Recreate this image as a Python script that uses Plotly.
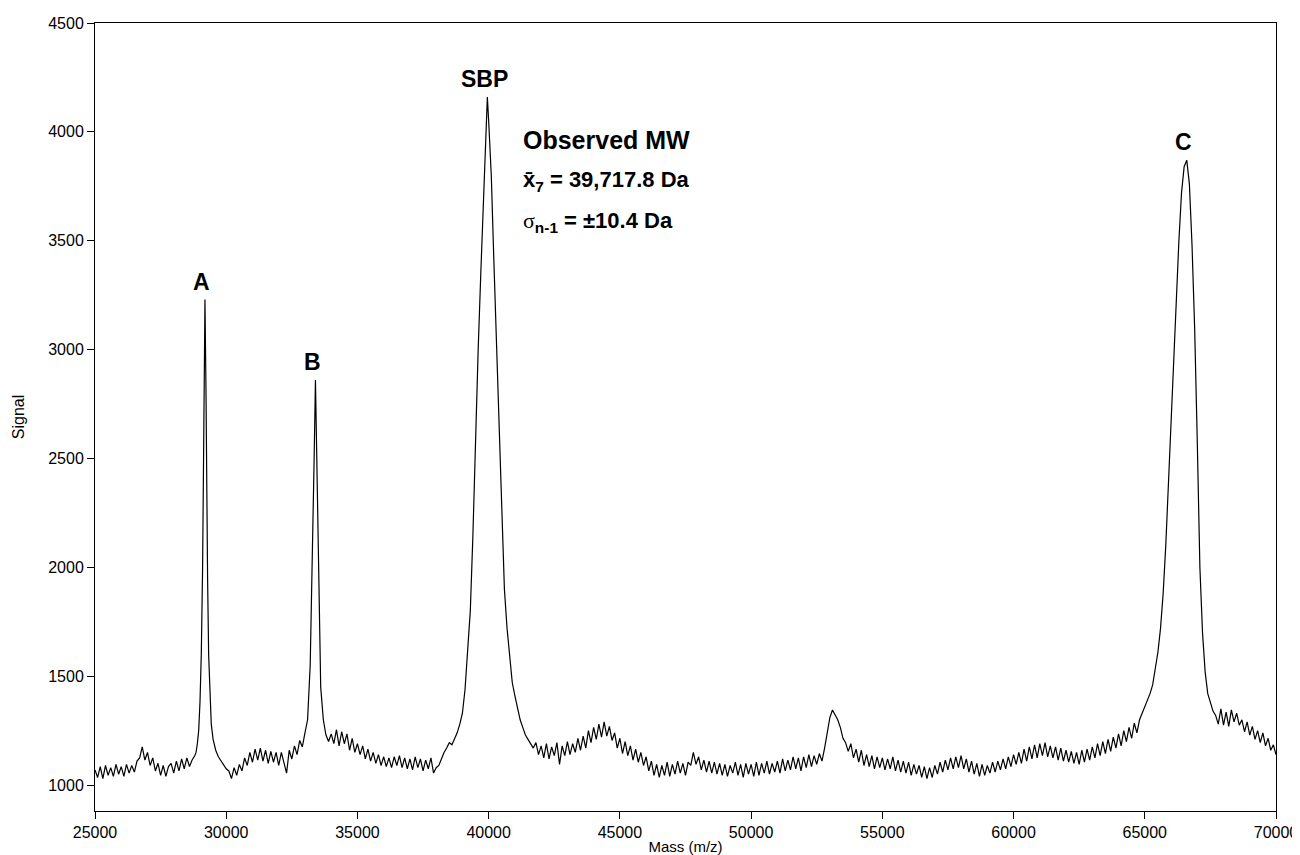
import plotly.graph_objects as go

# ---- spectrum data (mass in Da, signal in counts) ----
mass_base1 = [25000, 25100, 25200, 25300, 25400, 25500, 25600, 25700, 25800, 25900,
              26000, 26100, 26200, 26300, 26400, 26500, 26600, 26700, 26800, 26900,
              27000, 27100, 27200, 27300, 27400, 27500, 27600, 27700, 27800, 27900,
              28000, 28100, 28200, 28300, 28400, 28500, 28600, 28700, 28800]
signal_base1 = [1070, 1035, 1085, 1030, 1090, 1045, 1080, 1040, 1095, 1050,
                1085, 1040, 1095, 1055, 1090, 1060, 1110, 1125, 1175, 1115,
                1150, 1090, 1125, 1065, 1100, 1045, 1090, 1040, 1085, 1100,
                1055, 1110, 1065, 1120, 1075, 1125, 1085, 1115, 1135]

mass_peak_a = [28850, 28900, 28950, 29000, 29050, 29100, 29150, 29190, 29230, 29260,
               29290, 29330, 29380, 29430, 29500, 29600, 29700, 29800, 29900, 30000]
signal_peak_a = [1150, 1190, 1250, 1380, 1600, 2000, 2700, 3230, 2800, 2050,
                 1950, 1600, 1400, 1280, 1210, 1160, 1130, 1110, 1090, 1075]

mass_base2 = [30100, 30200, 30300, 30400, 30500, 30600, 30700, 30800, 30900, 31000,
              31100, 31200, 31300, 31400, 31500, 31600, 31700, 31800, 31900, 32000,
              32100, 32200, 32300, 32400, 32500, 32600, 32700, 32800, 32900, 33000]
signal_base2 = [1065, 1030, 1080, 1045, 1095, 1065, 1125, 1090, 1150, 1105,
                1165, 1115, 1170, 1110, 1160, 1100, 1155, 1105, 1150, 1090,
                1150, 1100, 1055, 1160, 1120, 1180, 1140, 1205, 1175, 1240]

mass_peak_b = [33100, 33200, 33280, 33350, 33400, 33450, 33520, 33600, 33700, 33800, 33900]
signal_peak_b = [1300, 1550, 2000, 2500, 2860, 2450, 1900, 1450, 1300, 1230, 1200]

mass_base3 = [34000, 34100, 34200, 34300, 34400, 34500, 34600, 34700, 34800, 34900,
              35000, 35100, 35200, 35300, 35400, 35500, 35600, 35700, 35800, 35900,
              36000, 36100, 36200, 36300, 36400, 36500, 36600, 36700, 36800, 36900,
              37000, 37100, 37200, 37300, 37400, 37500, 37600, 37700, 37800, 37900, 38000]
signal_base3 = [1235, 1190, 1255, 1180, 1245, 1190, 1235, 1160, 1215, 1150,
                1190, 1140, 1180, 1120, 1165, 1110, 1150, 1100, 1140, 1090,
                1130, 1085, 1125, 1080, 1130, 1090, 1135, 1080, 1125, 1075,
                1120, 1070, 1130, 1080, 1120, 1065, 1115, 1075, 1125, 1055, 1080]

mass_peak_sbp = [38100, 38200, 38300, 38400, 38500, 38600, 38700, 38800, 38900, 39000,
                 39100, 39200, 39300, 39400, 39500, 39600, 39700, 39800, 39900, 39950,
                 40000, 40100, 40200, 40300, 40400, 40500, 40600, 40700, 40800, 40900,
                 41000, 41100, 41200, 41300, 41400, 41500, 41600, 41700]
signal_peak_sbp = [1090, 1120, 1150, 1170, 1195, 1185, 1210, 1240, 1280, 1330,
                   1440, 1600, 1800, 2150, 2620, 3000, 3350, 3700, 4000, 4160,
                   4050, 3800, 3400, 3050, 2700, 2300, 1900, 1720, 1580, 1470,
                   1410, 1350, 1300, 1265, 1230, 1210, 1190, 1170]

mass_base4 = list(range(41800, 65000, 100))
signal_base4 = [
    1195, 1140, 1180, 1125, 1190, 1120, 1175, 1135, 1195, 1095,   # 41800-42700
    1180, 1135, 1200, 1140, 1190, 1150, 1215, 1160, 1225, 1170,   # 42800-43700
    1250, 1195, 1265, 1210, 1280, 1220, 1290, 1225, 1270, 1205,   # 43800-44700
    1240, 1170, 1215, 1145, 1200, 1135, 1180, 1115, 1165, 1105,   # 44800-45700
    1150, 1090, 1130, 1065, 1110, 1045, 1095, 1035, 1090, 1045,   # 45800-46700
    1105, 1040, 1095, 1050, 1110, 1055, 1100, 1045, 1105, 1090,   # 46800-47700
    1150, 1095, 1130, 1070, 1115, 1060, 1110, 1055, 1105, 1050,   # 47800-48700
    1100, 1045, 1095, 1040, 1090, 1055, 1105, 1045, 1095, 1035,   # 48800-49700
    1100, 1050, 1095, 1040, 1105, 1045, 1100, 1055, 1110, 1050,   # 49800-50700
    1100, 1060, 1110, 1055, 1120, 1065, 1115, 1070, 1130, 1075,   # 50800-51700
    1125, 1065, 1130, 1080, 1140, 1085, 1135, 1095, 1145, 1110,   # 51800-52700
    1170, 1240, 1310, 1345, 1325, 1300, 1265, 1215, 1195, 1155,   # 52800-53700
    1190, 1125, 1165, 1105, 1160, 1090, 1140, 1085, 1135, 1075,   # 53800-54700
    1130, 1080, 1125, 1070, 1120, 1075, 1130, 1065, 1115, 1060,   # 54800-55700
    1110, 1055, 1105, 1045, 1095, 1050, 1090, 1035, 1085, 1030,   # 55800-56700
    1080, 1035, 1090, 1050, 1105, 1060, 1115, 1070, 1125, 1075,   # 56800-57700
    1130, 1080, 1135, 1075, 1120, 1060, 1110, 1050, 1100, 1040,   # 57800-58700
    1095, 1045, 1090, 1055, 1105, 1060, 1110, 1070, 1120, 1075,   # 58800-59700
    1130, 1085, 1140, 1095, 1150, 1100, 1165, 1110, 1175, 1120,   # 59800-60700
    1185, 1125, 1190, 1135, 1195, 1130, 1180, 1125, 1175, 1115,   # 60800-61700
    1170, 1110, 1160, 1105, 1155, 1100, 1150, 1095, 1160, 1105,   # 61800-62700
    1165, 1115, 1175, 1125, 1190, 1135, 1200, 1145, 1210, 1155,   # 62800-63700
    1220, 1170, 1235, 1180, 1250, 1200, 1265, 1215, 1285, 1240,   # 63800-64700
    1300, 1330,                                                   # 64800-64900
]

mass_peak_c = [65000, 65100, 65200, 65300, 65400, 65500, 65600, 65700, 65800, 65900,
               66000, 66100, 66200, 66300, 66400, 66500, 66600, 66700, 66800, 66900,
               67000, 67100, 67200, 67300, 67400, 67500, 67600]
signal_peak_c = [1360, 1390, 1420, 1460, 1530, 1610, 1720, 1880, 2100, 2380,
                 2650, 2950, 3250, 3500, 3720, 3840, 3870, 3760, 3480, 3100,
                 2580, 2000, 1700, 1520, 1420, 1380, 1340]

mass_base5 = [67700, 67800, 67900, 68000, 68100, 68200, 68300, 68400, 68500, 68600,
              68700, 68800, 68900, 69000, 69100, 69200, 69300, 69400, 69500, 69600,
              69700, 69800, 69900, 70000]
signal_base5 = [1320, 1280, 1350, 1275, 1335, 1270, 1345, 1290, 1330, 1275,
                1300, 1245, 1290, 1230, 1270, 1210, 1250, 1195, 1240, 1180,
                1215, 1160, 1185, 1140]

peak_labels = ["A", "B", "SBP", "C"]
peak_masses = [29190, 33400, 39950, 66600]

x_ticks = [25000, 30000, 35000, 40000, 45000, 50000, 55000, 60000, 65000, 70000]
y_ticks = [1000, 1500, 2000, 2500, 3000, 3500, 4000, 4500]

# ---- assemble ----
mass = (mass_base1 + mass_peak_a + mass_base2 + mass_peak_b + mass_base3 +
        mass_peak_sbp + mass_base4 + mass_peak_c + mass_base5)
signal = (signal_base1 + signal_peak_a + signal_base2 + signal_peak_b + signal_base3 +
          signal_peak_sbp + signal_base4 + signal_peak_c + signal_base5)
lookup = dict(zip(mass, signal))

FONT = "Arial, 'Liberation Sans', sans-serif"

fig = go.Figure()
fig.add_trace(go.Scatter(x=mass, y=signal, mode="lines",
                         line=dict(color="black", width=1.2), hoverinfo="skip",
                         showlegend=False))

annotations = []
for lab, m in zip(peak_labels, peak_masses):
    annotations.append(dict(x=m, y=lookup[m], xref="x", yref="y", text="<b>%s</b>" % lab,
                            showarrow=False, yanchor="bottom", yshift=3, xshift=-3,
                            font=dict(family=FONT, size=23, color="black")))

annotations += [
    dict(xref="paper", yref="paper", x=0.361, y=0.852, xanchor="left", yanchor="middle",
         text="<b>Observed MW</b>", showarrow=False,
         font=dict(family=FONT, size=25, color="black")),
    dict(xref="paper", yref="paper", x=0.361, y=0.800, xanchor="left", yanchor="middle",
         text="<b>x\u0304<sub>7</sub> = 39,717.8 Da</b>", showarrow=False,
         font=dict(family=FONT, size=22, color="black")),
    dict(xref="paper", yref="paper", x=0.361, y=0.748, xanchor="left", yanchor="middle",
         text="<span style=\"font-family:'Liberation Serif', serif\">\u03c3</span>"
              "<b><sub>n-1</sub> = \u00b110.4 Da</b>", showarrow=False,
         font=dict(family=FONT, size=22, color="black")),
]

# the page body adds an 8 px offset, so the figure is 8 px smaller than the window
fig.update_layout(
    width=1292, height=847,
    margin=dict(l=87, r=24, t=15, b=44),
    paper_bgcolor="white", plot_bgcolor="white",
    font=dict(family=FONT, color="black"),
    annotations=annotations,
)
fig.update_xaxes(range=[25000, 70000], tickvals=x_ticks, ticktext=[str(v) for v in x_ticks],
                 ticks="outside", ticklen=7, tickwidth=1, tickcolor="black",
                 showline=True, linecolor="black", linewidth=1, mirror=True,
                 showgrid=False, zeroline=False, tickfont=dict(size=16), automargin=False,
                 title=dict(text="Mass (m/z)", font=dict(size=15), standoff=7))
fig.update_yaxes(range=[881, 4500], tickvals=y_ticks, ticktext=[str(v) for v in y_ticks],
                 ticks="outside", ticklen=7, tickwidth=1, tickcolor="black",
                 showline=True, linecolor="black", linewidth=1, mirror=True,
                 showgrid=False, zeroline=False, tickfont=dict(size=16), automargin=False,
                 title=dict(text="Signal", font=dict(size=16), standoff=19))

fig.write_html("out.html")
